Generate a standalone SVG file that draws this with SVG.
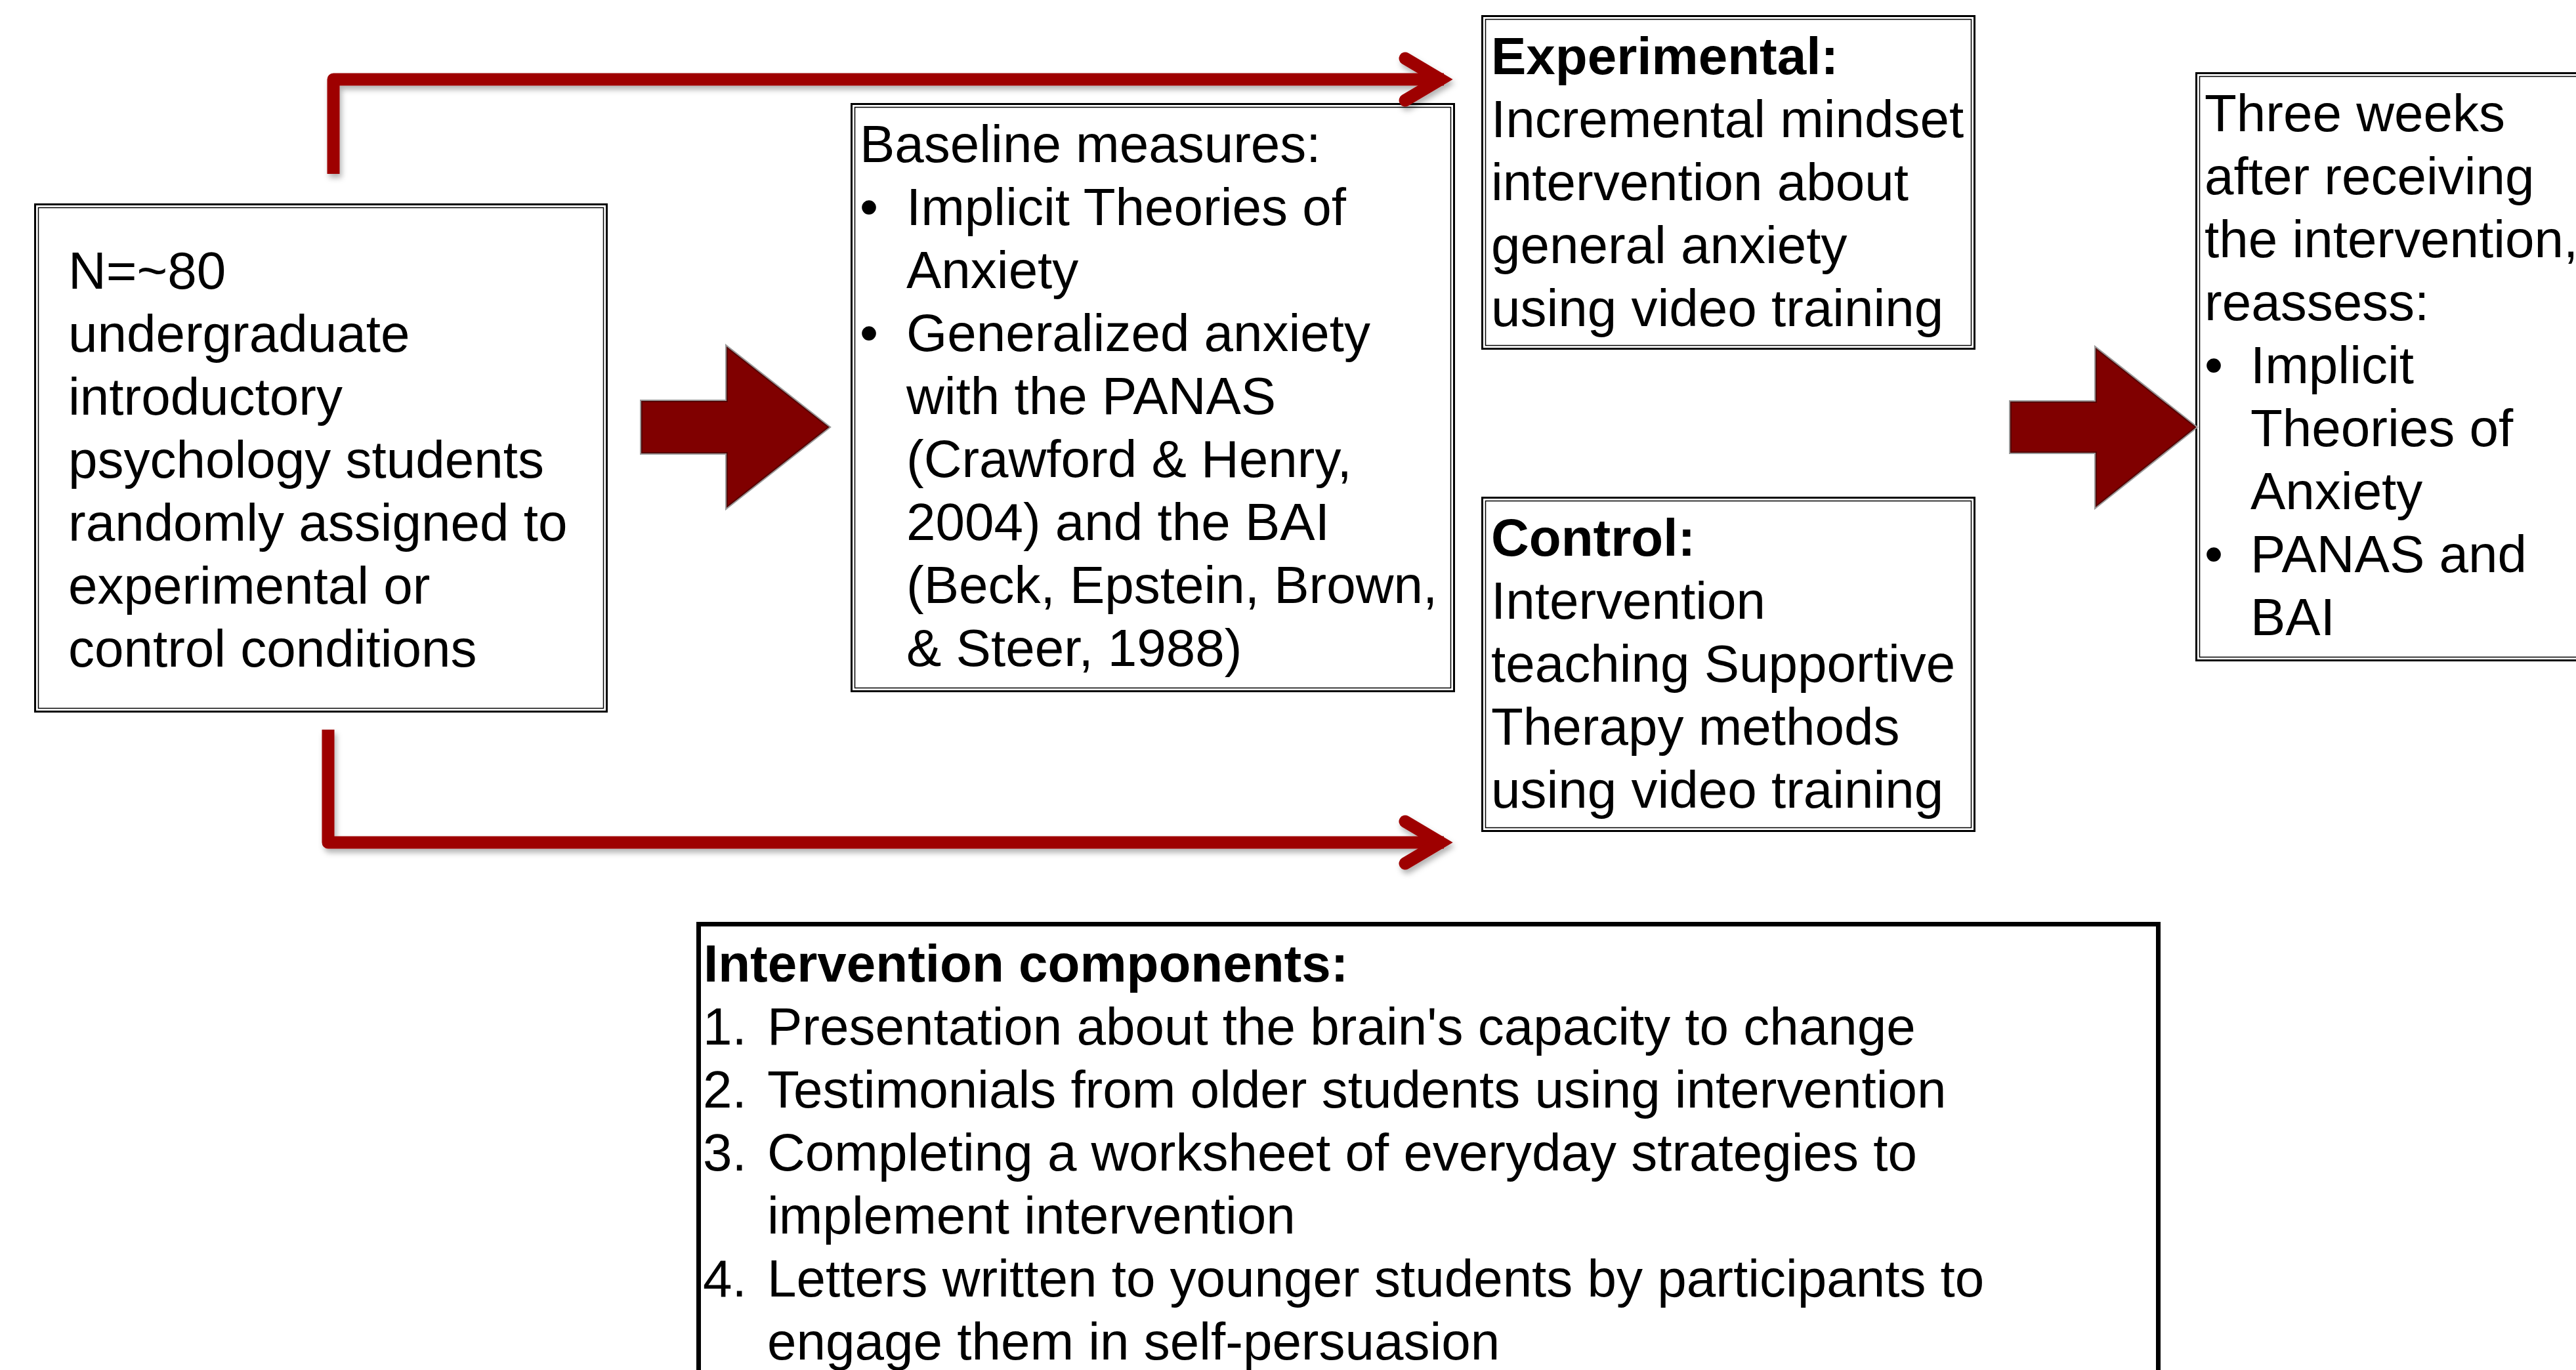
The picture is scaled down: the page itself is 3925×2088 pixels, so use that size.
<svg xmlns="http://www.w3.org/2000/svg" width="3925" height="2088" viewBox="0 0 3925 2088">
  <defs>
    <style>
      .t { font-family: "Liberation Sans", Arial, sans-serif; font-size: 80px; fill: #000; }
      .b { font-weight: bold; }
      .outer { fill: #fff; stroke: #000; stroke-width: 3; }
      .inner { fill: none; stroke: #000; stroke-width: 1.5; }
      .heavy { fill: #fff; stroke: #000; stroke-width: 7; }
      .conn { fill: none; stroke: #9E0000; stroke-width: 19; stroke-linejoin: round; }
      .head { fill: none; stroke: #9E0000; stroke-width: 19; stroke-linejoin: miter; stroke-linecap: round; }
      .blk-edge { fill: none; stroke: #9a9a9a; stroke-width: 6; stroke-linejoin: miter; }
      .blk { fill: #800000; stroke: #560000; stroke-width: 2; stroke-linejoin: miter; }
    </style>
    <filter id="shadow" x="-5%" y="-20%" width="110%" height="140%">
      <feDropShadow dx="3" dy="6" stdDeviation="4" flood-color="#000" flood-opacity="0.3"/>
    </filter>
  </defs>

  <rect width="3925" height="2088" fill="#fff"/>

  <!-- participants -->
  <g id="participants">
    <rect class="outer" x="53.5" y="311.5" width="871" height="773"/>
    <rect class="inner" x="58.5" y="316.5" width="861" height="763"/>
    <text class="t" x="104" y="440">N=~80</text>
    <text class="t" x="104" y="536">undergraduate</text>
    <text class="t" x="104" y="632">introductory</text>
    <text class="t" x="104" y="728">psychology students</text>
    <text class="t" x="104" y="824">randomly assigned to</text>
    <text class="t" x="104" y="920">experimental or</text>
    <text class="t" x="104" y="1016">control conditions</text>
  </g>

  <!-- baseline measures -->
  <g id="baseline">
    <rect class="outer" x="1297.5" y="158.5" width="918" height="895"/>
    <rect class="inner" x="1302.5" y="163.5" width="908" height="885"/>
    <text class="t" x="1310" y="247">Baseline measures:</text>
    <text class="t" x="1310" y="343">•</text>
    <text class="t" x="1381" y="343">Implicit Theories of</text>
    <text class="t" x="1381" y="439">Anxiety</text>
    <text class="t" x="1310" y="535">•</text>
    <text class="t" x="1381" y="535">Generalized anxiety</text>
    <text class="t" x="1381" y="631">with the PANAS</text>
    <text class="t" x="1381" y="727">(Crawford &amp; Henry,</text>
    <text class="t" x="1381" y="823">2004) and the BAI</text>
    <text class="t" x="1381" y="919">(Beck, Epstein, Brown,</text>
    <text class="t" x="1381" y="1015">&amp; Steer, 1988)</text>
  </g>

  <!-- experimental condition -->
  <g id="experimental">
    <rect class="outer" x="2258.5" y="24.5" width="750" height="507"/>
    <rect class="inner" x="2263.5" y="29.5" width="740" height="497"/>
    <text class="t b" x="2272" y="113">Experimental:</text>
    <text class="t" x="2272" y="209">Incremental mindset</text>
    <text class="t" x="2272" y="305">intervention about</text>
    <text class="t" x="2272" y="401">general anxiety</text>
    <text class="t" x="2272" y="497">using video training</text>
  </g>

  <!-- control condition -->
  <g id="control">
    <rect class="outer" x="2258.5" y="758.5" width="750" height="508"/>
    <rect class="inner" x="2263.5" y="763.5" width="740" height="498"/>
    <text class="t b" x="2272" y="847">Control:</text>
    <text class="t" x="2272" y="943">Intervention</text>
    <text class="t" x="2272" y="1039">teaching Supportive</text>
    <text class="t" x="2272" y="1135">Therapy methods</text>
    <text class="t" x="2272" y="1231">using video training</text>
  </g>

  <!-- follow-up -->
  <g id="followup">
    <rect class="outer" x="3346.5" y="111.5" width="700" height="895"/>
    <rect class="inner" x="3351.5" y="116.5" width="690" height="885"/>
    <text class="t" x="3359" y="200">Three weeks</text>
    <text class="t" x="3359" y="296">after receiving</text>
    <text class="t" x="3359" y="392">the intervention,</text>
    <text class="t" x="3359" y="488">reassess:</text>
    <text class="t" x="3359" y="584">•</text>
    <text class="t" x="3429" y="584">Implicit</text>
    <text class="t" x="3429" y="680">Theories of</text>
    <text class="t" x="3429" y="776">Anxiety</text>
    <text class="t" x="3359" y="872">•</text>
    <text class="t" x="3429" y="872">PANAS and</text>
    <text class="t" x="3429" y="968">BAI</text>
  </g>

  <!-- intervention components -->
  <g id="components">
    <rect class="heavy" x="1064.5" y="1408.5" width="2224" height="720"/>
    <text class="t b" x="1072" y="1496">Intervention components:</text>
    <text class="t" x="1071" y="1592">1.</text>
    <text class="t" x="1169" y="1592">Presentation about the brain's capacity to change</text>
    <text class="t" x="1071" y="1688">2.</text>
    <text class="t" x="1169" y="1688">Testimonials from older students using intervention</text>
    <text class="t" x="1071" y="1784">3.</text>
    <text class="t" x="1169" y="1784">Completing a worksheet of everyday strategies to</text>
    <text class="t" x="1169" y="1880">implement intervention</text>
    <text class="t" x="1071" y="1976">4.</text>
    <text class="t" x="1169" y="1976">Letters written to younger students by participants to</text>
    <text class="t" x="1169" y="2072">engage them in self-persuasion</text>
  </g>

  <!-- block arrows between stages -->
  <g id="step-arrows">
    <polygon class="blk-edge" points="978,612 1108,612 1108,530 1262,651 1108,772 1108,690 978,690"/>
    <polygon class="blk" points="978,612 1108,612 1108,530 1262,651 1108,772 1108,690 978,690"/>
    <polygon class="blk-edge" points="3064,613 3194,613 3194,532 3345,651 3194,771 3194,689 3064,689"/>
    <polygon class="blk" points="3064,613 3194,613 3194,532 3345,651 3194,771 3194,689 3064,689"/>
  </g>

  <!-- randomisation connectors -->
  <g id="connectors" filter="url(#shadow)">
    <path class="conn" d="M508,265 V121 H2200"/>
    <polyline class="head" points="2141,89 2195,121 2141,153"/>
    <path class="conn" d="M500,1112 V1284 H2200"/>
    <polyline class="head" points="2141,1252 2195,1284 2141,1316"/>
  </g>
</svg>
